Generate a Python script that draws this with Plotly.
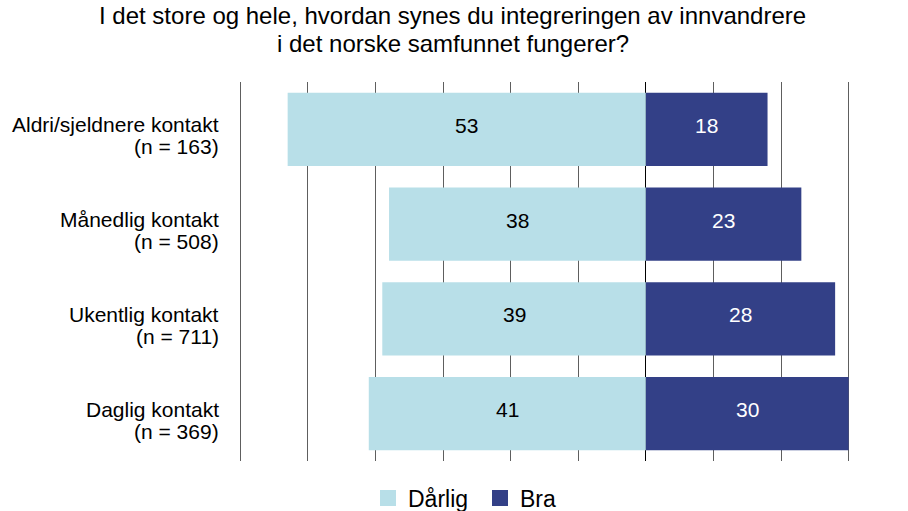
import plotly.graph_objects as go

# ---- data ----
categories = ["Aldri/sjeldnere kontakt", "Månedlig kontakt", "Ukentlig kontakt", "Daglig kontakt"]
n_labels = ["(n = 163)", "(n = 508)", "(n = 711)", "(n = 369)"]
darlig = [53, 38, 39, 41]
bra = [18, 23, 28, 30]
series_names = ["Dårlig", "Bra"]
title_lines = ["I det store og hele, hvordan synes du integreringen av innvandrere",
               "i det norske samfunnet fungerer?"]

FONT = "Liberation Sans, Arial, sans-serif"
C_DARLIG = "#B8DFE8"
C_BRA = "#334087"

W, H = 908, 511
L, R, T, B = 239, 58, 82, 50
PW, PH = W - L - R, H - T - B

fig = go.Figure()
fig.add_trace(go.Bar(
    y=categories, x=[-v for v in darlig], orientation="h", name=series_names[0],
    marker=dict(color=C_DARLIG, line=dict(width=0)),
    hoverinfo="skip", showlegend=False,
))
fig.add_trace(go.Bar(
    y=categories, x=bra, orientation="h", name=series_names[1],
    marker=dict(color=C_BRA, line=dict(width=0)),
    hoverinfo="skip", showlegend=False,
))
# legend swatches (square, 16px)
for name, col in zip(series_names, [C_DARLIG, C_BRA]):
    fig.add_trace(go.Scatter(
        x=[None], y=[None], mode="markers", name=name,
        marker=dict(symbol="square", size=16, color=col, line=dict(width=0)),
        showlegend=True, hoverinfo="skip",
    ))

annotations = []
# title, two tightly spaced lines
for line, ys in zip(title_lines, [67, 39]):
    annotations.append(dict(
        text=line, xref="paper", yref="paper", x=(452.5 - L) / PW, y=1,
        xanchor="center", yanchor="middle", yshift=ys, showarrow=False, borderpad=0,
        font=dict(size=24, family=FONT, color="#000000"),
    ))
# category labels, two tightly spaced lines each
for cat, nl in zip(categories, n_labels):
    for txt, ys in [(cat, 4.5), (nl, -17.5)]:
        annotations.append(dict(
            text=txt, xref="paper", yref="y", x=0, y=cat,
            xanchor="right", yanchor="middle", xshift=-19, yshift=ys, showarrow=False,
            borderpad=0, font=dict(size=21, family=FONT, color="#000000"),
        ))
# value labels, centred in each bar segment
for cat, d, b in zip(categories, darlig, bra):
    annotations.append(dict(
        text=str(d), x=-d / 2, y=cat, xref="x", yref="y", yshift=4, showarrow=False,
        borderpad=0, font=dict(size=21, family=FONT, color="#000000"),
    ))
    annotations.append(dict(
        text=str(b), x=b / 2, y=cat, xref="x", yref="y", yshift=4, showarrow=False,
        borderpad=0, font=dict(size=21, family=FONT, color="#FFFFFF"),
    ))

fig.update_layout(
    width=W, height=H,
    barmode="relative", bargap=0.226,
    paper_bgcolor="white", plot_bgcolor="white",
    margin=dict(l=L, r=R, t=T, b=B, autoexpand=False),
    font=dict(family=FONT, color="#000000", size=21),
    xaxis=dict(range=[-60.2, 30.2], dtick=10, tick0=0, showticklabels=False,
               showgrid=True, gridcolor="#5E5E5E", gridwidth=1,
               zeroline=True, zerolinecolor="#000000", zerolinewidth=1,
               showline=False, fixedrange=True),
    yaxis=dict(autorange="reversed", showgrid=False, zeroline=False, showline=False,
               ticks="", showticklabels=False, categoryorder="array",
               categoryarray=categories, fixedrange=True),
    legend=dict(orientation="h", x=(368 - L) / PW, xanchor="left",
                y=-(498 - (H - B)) / PH, yanchor="middle",
                font=dict(size=23, family=FONT), itemwidth=30,
                entrywidth=67, entrywidthmode="pixels", bgcolor="rgba(0,0,0,0)"),
    annotations=annotations,
    showlegend=True,
)

# remove the default 8px page margin so the figure fills the window exactly
fig.write_html("out.html", config={"displayModeBar": False},
               post_script="document.body.style.margin='0';")
